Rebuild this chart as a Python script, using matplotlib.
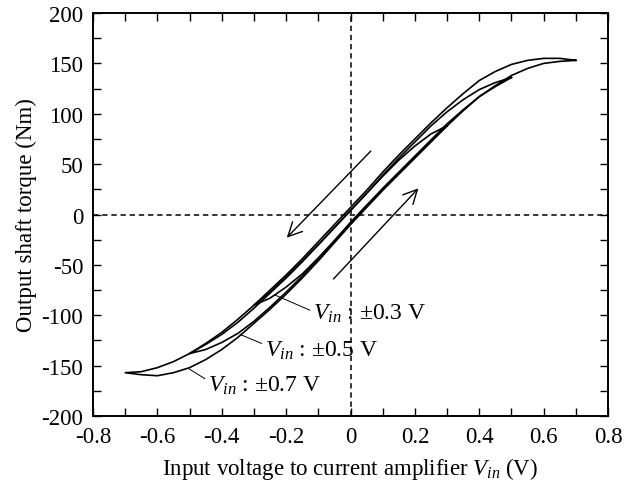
import numpy as np
import matplotlib
matplotlib.use("Agg")
import matplotlib.pyplot as plt
from matplotlib.patches import FancyArrowPatch
from matplotlib.ticker import MultipleLocator

plt.rcParams['font.family'] = ['Liberation Serif', 'DejaVu Serif']
plt.rcParams['mathtext.fontset'] = 'custom'
plt.rcParams['mathtext.rm'] = 'Liberation Serif'
plt.rcParams['mathtext.it'] = 'Liberation Serif:italic'
plt.rcParams['axes.unicode_minus'] = False

# loop +-0.7 V : descending (upper) branch, then ascending (lower) branch
v07_down = [0.70, 0.65, 0.60, 0.55, 0.50, 0.45, 0.40, 0.35, 0.30, 0.25, 0.20, 0.15, 0.10, 0.05, 0.00,
            -0.05, -0.10, -0.15, -0.20, -0.25, -0.30, -0.35, -0.40, -0.45, -0.50, -0.55, -0.60, -0.65, -0.70]
t07_down = [153, 155, 155, 153, 149, 142, 133, 120, 106, 91, 75, 59, 42, 24, 7,
            -10, -27, -44, -60, -75, -90, -104, -117, -128, -138, -146, -152, -156, -157]
v07_up = [-0.70, -0.65, -0.60, -0.55, -0.50, -0.45, -0.40, -0.35, -0.30, -0.25, -0.20, -0.15, -0.10, -0.05, 0.00,
          0.05, 0.10, 0.15, 0.20, 0.25, 0.30, 0.35, 0.40, 0.45, 0.50, 0.55, 0.60, 0.65, 0.70]
t07_up = [-157, -159, -160, -157, -152, -144, -134, -122, -108, -94, -79, -63, -46, -28, -10,
          7, 24, 40, 56, 72, 88, 103, 117, 128, 138, 145, 150, 152, 153]

# loop +-0.5 V
v05_down = [0.50, 0.45, 0.40, 0.35, 0.30, 0.25, 0.20, 0.15, 0.10, 0.05, 0.00,
            -0.05, -0.10, -0.15, -0.20, -0.25, -0.30, -0.35, -0.40, -0.45, -0.50]
t05_down = [136, 131, 124, 114, 102, 88, 72, 56, 39, 21, 4,
            -13, -30, -47, -63, -78, -93, -107, -119, -129, -138]
v05_up = [-0.50, -0.45, -0.40, -0.35, -0.30, -0.25, -0.20, -0.15, -0.10, -0.05, 0.00,
          0.05, 0.10, 0.15, 0.20, 0.25, 0.30, 0.35, 0.40, 0.45, 0.50]
t05_up = [-138, -134, -127, -118, -106, -92, -77, -61, -44, -26, -8,
          9, 26, 42, 58, 74, 90, 104, 117, 127, 136]

# loop +-0.3 V
v03_down = [0.30, 0.25, 0.20, 0.15, 0.10, 0.05, 0.00, -0.05, -0.10, -0.15, -0.20, -0.25, -0.30]
t03_down = [88, 80, 68, 54, 38, 21, 4, -13, -30, -46, -62, -77, -90]
v03_up = [-0.30, -0.25, -0.20, -0.15, -0.10, -0.05, 0.00, 0.05, 0.10, 0.15, 0.20, 0.25, 0.30]
t03_up = [-90, -83, -72, -59, -43, -26, -8, 9, 25, 41, 57, 73, 88]

labels = [r'$V_{in}$ : ±0.3 V', r'$V_{in}$ : ±0.5 V', r'$V_{in}$ : ±0.7 V']
label_xy = [(-0.116, -103), (-0.266, -140), (-0.442, -175)]
leader_from = [(-0.126, -95), (-0.276, -128), (-0.452, -163)]
leader_to = [(-0.234, -80), (-0.343, -119), (-0.503, -153)]

fig = plt.figure(figsize=(6.34, 4.89), dpi=100)
ax = fig.add_axes([0.1467, 0.1472, 0.8123, 0.8241])

for vd, td, vu, tu in [(v07_down, t07_down, v07_up, t07_up),
                       (v05_down, t05_down, v05_up, t05_up),
                       (v03_down, t03_down, v03_up, t03_up)]:
    ax.plot(vd + vu, td + tu, color='black', lw=1.2)

ax.axhline(0, color='black', lw=1.1, ls=(0, (3.5, 2.5)))
ax.axvline(0, color='black', lw=1.1, ls=(0, (3.5, 2.5)))

# direction arrows
for start, end in [((0.063, 63), (-0.198, -23)), ((-0.053, -64), (0.211, 26))]:
    ax.add_patch(FancyArrowPatch(start, end, arrowstyle='->,head_length=1.0,head_width=0.5',
                                 mutation_scale=10, lw=1.0, color='black', shrinkA=0, shrinkB=0))

for txt, pos, p0, p1 in zip(labels, label_xy, leader_from, leader_to):
    ax.text(pos[0], pos[1], txt, fontsize=17, ha='left', va='baseline')
    ax.annotate('', xy=p1, xytext=p0,
                arrowprops=dict(arrowstyle='-', lw=0.7, color='black', shrinkA=0, shrinkB=0))

ax.set_xlim(-0.8, 0.8)
ax.set_ylim(-200, 200)
ax.xaxis.set_major_locator(MultipleLocator(0.2))
ax.xaxis.set_minor_locator(MultipleLocator(0.1))
ax.yaxis.set_major_locator(MultipleLocator(50))
ax.yaxis.set_minor_locator(MultipleLocator(25))
ax.set_xticks(np.arange(-0.8, 0.81, 0.2))
ax.set_xticklabels(['-0.8', '-0.6', '-0.4', '-0.2', '0', '0.2', '0.4', '0.6', '0.8'])
ax.tick_params(which='both', direction='in', top=True, right=True, length=5.5, width=1.0,
               labelsize=16.5)
ax.tick_params(axis='x', pad=7)
ax.tick_params(axis='y', pad=7)
for s in ax.spines.values():
    s.set_linewidth(1.4)

ax.set_xlabel(r'Input voltage to current amplifier $V_{in}$ (V)', fontsize=16.5, labelpad=6)
ax.set_ylabel('Output shaft torque (Nm)', fontsize=16.5, labelpad=3)

fig.savefig('out.png', dpi=100)
